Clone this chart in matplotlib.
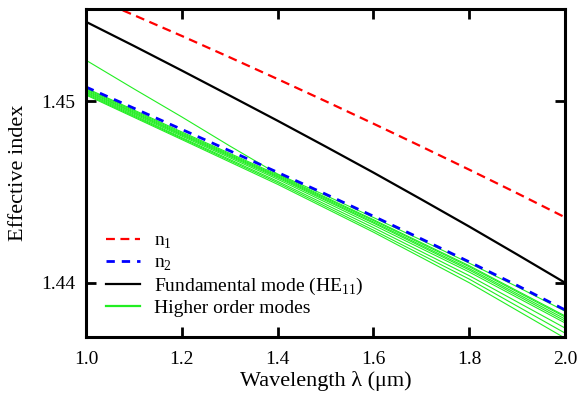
import matplotlib
matplotlib.use("Agg")
import matplotlib.pyplot as plt
from matplotlib.lines import Line2D

plt.rcParams['font.family'] = ['Liberation Serif', 'DejaVu Serif']
plt.rcParams['mathtext.fontset'] = 'custom'
plt.rcParams['mathtext.rm'] = 'Liberation Serif'
plt.rcParams['font.size'] = 14

# wavelength grid (um)
wl = [1.0, 1.1, 1.2, 1.3, 1.4, 1.5, 1.6, 1.7, 1.8, 1.9, 2.0]
wl_modes = [1.0, 1.2, 1.4, 1.6, 1.8, 2.0]

# core / cladding indices
n1 = [1.45590, 1.45477, 1.45362, 1.45244, 1.45124, 1.45002, 1.44878, 1.44752, 1.44624, 1.44494, 1.44361]
n2 = [1.45080, 1.44963, 1.44846, 1.44728, 1.44609, 1.44489, 1.44367, 1.44242, 1.44115, 1.43985, 1.43850]

# fundamental mode HE11
he11 = [1.45440, 1.45307, 1.45171, 1.45033, 1.44894, 1.44752, 1.44608, 1.44460, 1.44310, 1.44156, 1.44000]

# higher order modes
hom_top = [1.45228, 1.45070, 1.44915, 1.44755, 1.44600, 1.44482, 1.44360, 1.44235, 1.44108, 1.43978, 1.43843]
hom_1 = [1.45074, 1.44832, 1.44596, 1.44348, 1.44094, 1.43817]
hom_2 = [1.45069, 1.44826, 1.44590, 1.44343, 1.44088, 1.43811]
hom_3 = [1.45063, 1.44820, 1.44585, 1.44335, 1.44078, 1.43800]
hom_4 = [1.45058, 1.44815, 1.44579, 1.44329, 1.44070, 1.43789]
hom_5 = [1.45052, 1.44809, 1.44571, 1.44318, 1.44059, 1.43778]
hom_6 = [1.45047, 1.44801, 1.44560, 1.44304, 1.44039, 1.43750]
hom_7 = [1.45041, 1.44796, 1.44552, 1.44290, 1.44020, 1.43722]
hom_8 = [1.45036, 1.44790, 1.44543, 1.44279, 1.44000, 1.43694]

green = '#22ee22'

fig = plt.figure(figsize=(5.77, 3.96), dpi=100)
ax = fig.add_axes([0.149, 0.149, 0.83, 0.828])

ax.plot(wl, hom_top, color=green, lw=0.8)
for m in [hom_1, hom_2, hom_3, hom_4, hom_5, hom_6, hom_7, hom_8]:
    ax.plot(wl_modes, m, color=green, lw=0.8)

ax.plot(wl, he11, color='black', lw=1.6)
ax.plot(wl, n1, color='red', lw=1.6, dashes=(4, 2.5))
ax.plot(wl, n2, color='blue', lw=2.0, dashes=(3, 2.5))

ax.set_xlim(1.0, 2.0)
ax.set_ylim(1.4370, 1.4551)
ax.set_xticks([1.0, 1.2, 1.4, 1.6, 1.8, 2.0])
ax.set_xticklabels(['1.0', '1.2', '1.4', '1.6', '1.8', '2.0'])
ax.set_yticks([1.44, 1.45])
ax.set_yticklabels(['1.44', '1.45'])
ax.tick_params(direction='in', length=7, width=2, top=True, right=True, labelsize=14)
ax.tick_params(axis='x', pad=10)
ax.tick_params(axis='y', pad=8)
for s in ax.spines.values():
    s.set_linewidth(2.2)

ax.set_xlabel('Wavelength λ (μm)', fontsize=16, labelpad=2)
ax.set_ylabel('Effective index', fontsize=16, labelpad=9)

handles = [
    Line2D([], [], color='red', lw=1.6, dashes=(4, 2.5)),
    Line2D([], [], color='blue', lw=2.0, dashes=(3, 2.5)),
    Line2D([], [], color='black', lw=1.6),
    Line2D([], [], color=green, lw=1.6),
]
labels = ['n$_1$', 'n$_2$', 'Fundamental mode (HE$_{11}$)', 'Higher order modes']
ax.legend(handles, labels, loc='lower left', bbox_to_anchor=(0.01, 0.013),
          frameon=False, fontsize=14, handlelength=1.75, handletextpad=0.7,
          labelspacing=0.15, borderaxespad=0.4)

fig.savefig('out.png', dpi=100)
